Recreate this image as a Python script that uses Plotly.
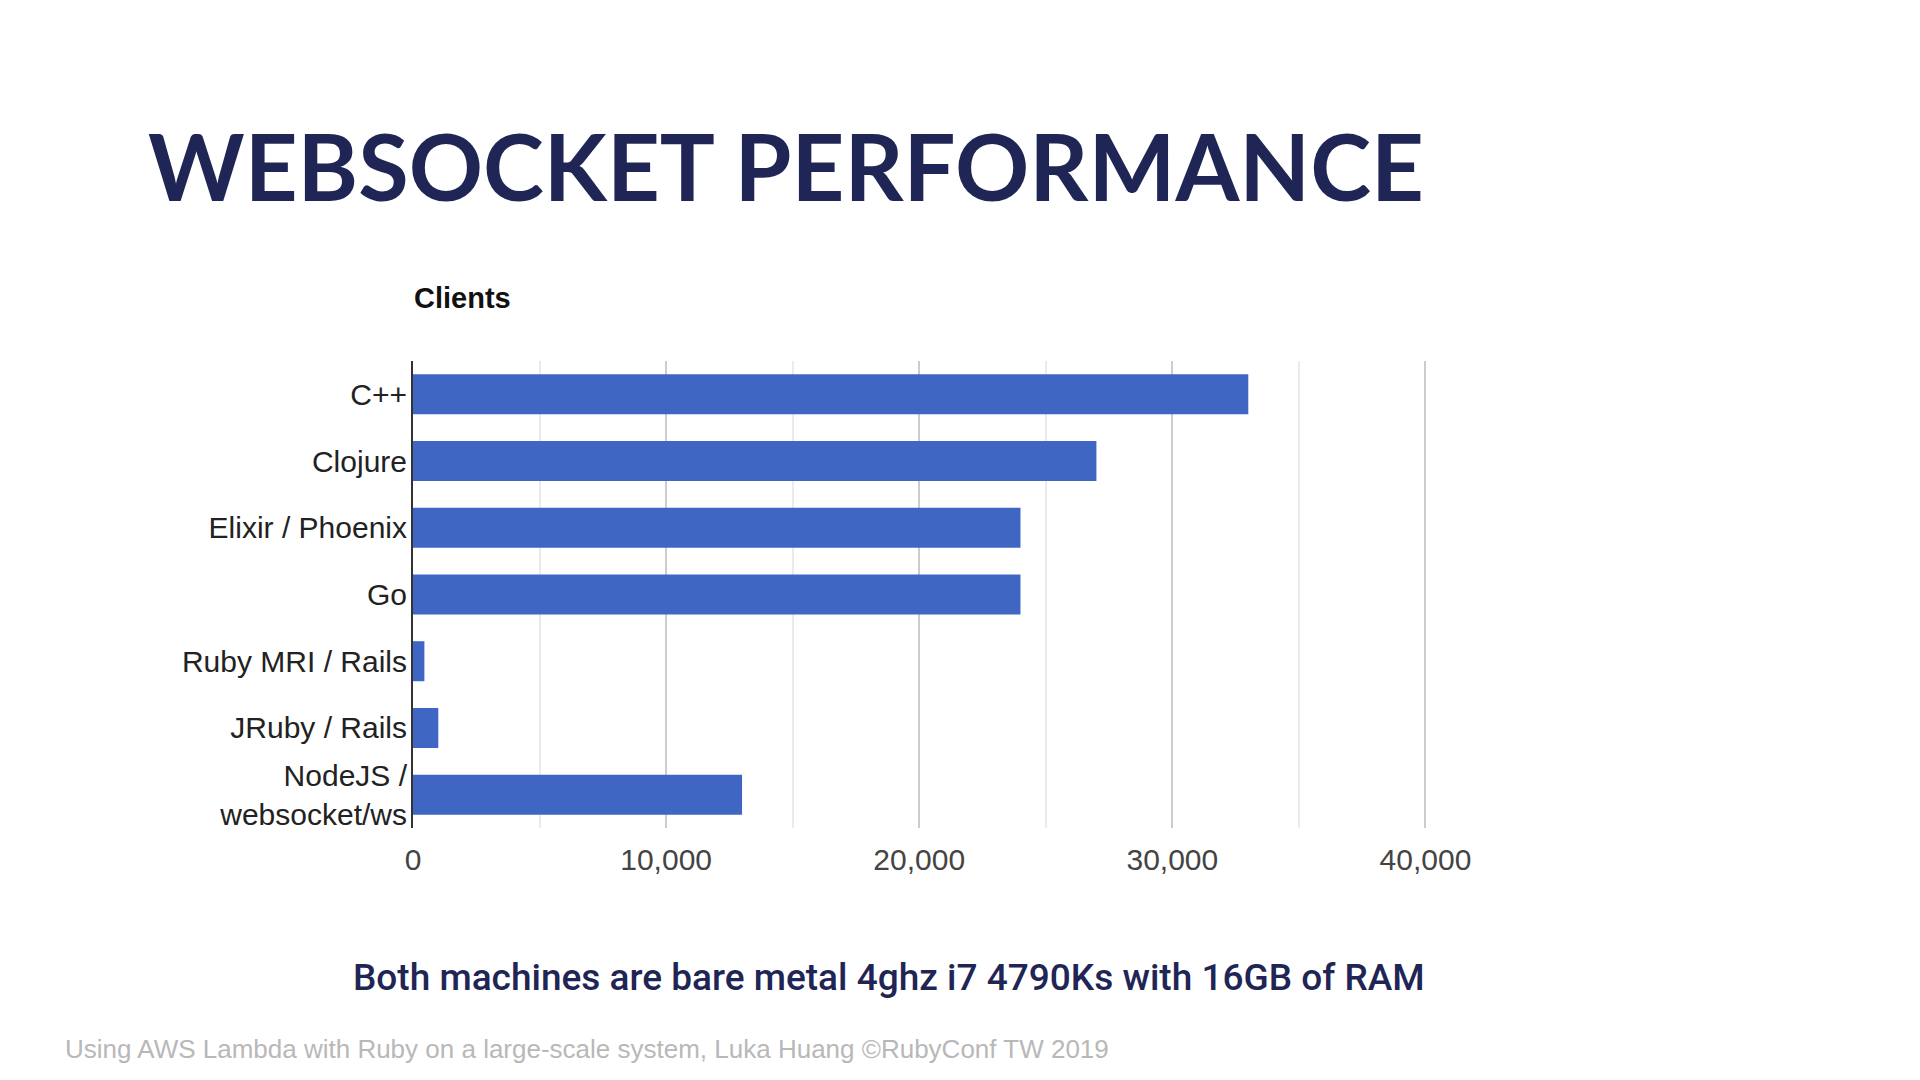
import plotly.graph_objects as go

categories = ["C++", "Clojure", "Elixir / Phoenix", "Go", "Ruby MRI / Rails", "JRuby / Rails", "NodeJS /<br>websocket/ws"]
clients = [33000, 27000, 24000, 24000, 450, 1000, 13000]
x_tickvals = [0, 10000, 20000, 30000, 40000]
x_ticktext = ["0", "10,000", "20,000", "30,000", "40,000"]
x_max = 40100

W, H = 1920, 1080
L, T, B = 413, 361, 828
R = L + 1012 * x_max / 40000

def px(x):
    return (x - L) / (R - L)

def py(y):
    return (B - y) / (B - T)

fig = go.Figure(go.Bar(
    x=clients, y=categories, orientation="h",
    marker=dict(color="#4066c4", line=dict(width=0)),
    width=0.6,
))

fig.update_layout(
    width=W, height=H,
    margin=dict(l=L, r=W - R, t=T, b=H - B, pad=0),
    paper_bgcolor="white", plot_bgcolor="white",
    showlegend=False,
    bargap=0.4,
)
fig.update_xaxes(
    range=[0, x_max], tickvals=x_tickvals, ticktext=x_ticktext,
    showgrid=True, gridcolor="#cccccc", gridwidth=2,
    minor=dict(dtick=5000, tick0=0, showgrid=True, gridcolor="#ebebeb", gridwidth=2, ticks=""),
    zeroline=False, showline=False, ticks="",
    tickfont=dict(family="Liberation Sans, Arial", size=30, color="#444444"),
    ticklabelstandoff=11,
    fixedrange=True,
)
fig.update_yaxes(
    autorange="reversed",
    showgrid=False, zeroline=False,
    showline=True, linecolor="#333333", linewidth=2,
    ticks="", ticklabelstandoff=-2,
    tickfont=dict(family="Liberation Sans, Arial", size=30, color="#222222"),
    fixedrange=True,
)

annotations = [
    dict(text="WEBSOCKET PERFORMANCE", x=px(146), y=py(166), xanchor="left", yanchor="middle",
         font=dict(family="Lato", size=92, color="#1f2555", weight=700), showarrow=False),
    dict(text="Clients", x=px(412), y=py(298), xanchor="left", yanchor="middle",
         font=dict(family="Liberation Sans, Arial", size=29, color="#111111", weight=700), showarrow=False),
    dict(text="Both machines are bare metal 4ghz i7 4790Ks with 16GB of RAM", x=px(351), y=py(977),
         xanchor="left", yanchor="middle",
         font=dict(family="Roboto", size=37, color="#1f2555", weight=500), showarrow=False),
    dict(text="Using AWS Lambda with Ruby on a large-scale system, Luka Huang \u00a9RubyConf TW 2019",
         x=px(63), y=py(1049), xanchor="left", yanchor="middle",
         font=dict(family="Liberation Sans, Arial", size=26, color="#b8b8b8"), showarrow=False),
]
for a in annotations:
    a.update(xref="paper", yref="paper")
fig.update_layout(annotations=annotations)

fig.write_html("out.html")
